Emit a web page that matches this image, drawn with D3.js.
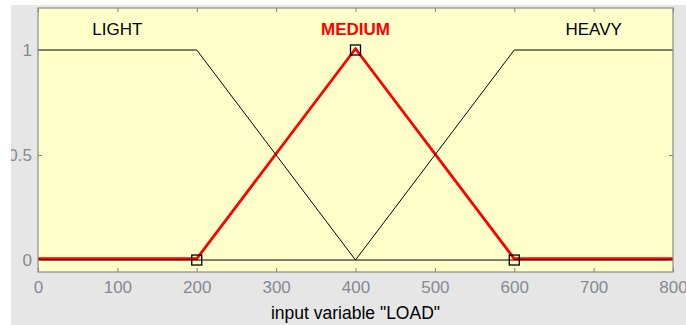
<!DOCTYPE html>
<html>
<head>
<meta charset="utf-8">
<script src="https://cdn.jsdelivr.net/npm/d3@7"></script>
<style>
body { margin: 0; background: #fff; }
svg { display: block; font-family: Arial, "Liberation Sans", sans-serif; }
</style>
</head>
<body>
<script>
// membership functions of input variable LOAD
var mfNames = ["LIGHT", "MEDIUM", "HEAVY"];
var lightX = [0, 200, 400, 800];
var lightY = [1, 1, 0, 0];
var mediumX = [0, 200, 400, 600, 800];
var mediumY = [0, 0, 1, 0, 0];
var heavyX = [0, 400, 600, 800];
var heavyY = [0, 0, 1, 1];
var markerX = [200, 400, 600];
var markerY = [0, 1, 0];
var labelX = [100, 400, 700];
var xTicks = [0, 100, 200, 300, 400, 500, 600, 700, 800];
var yTicks = [0, 0.5, 1];
var yTickLabels = ["0", "0.5", "1"];

var W = 686, H = 325;
var margin = {top: 8, right: 13, bottom: 53, left: 38},
    width = W - margin.left - margin.right,
    height = H - margin.top - margin.bottom;

var svg = d3.select("body").append("svg")
  .attr("width", W).attr("height", H);

// gray figure background
svg.append("rect").attr("x", 11).attr("y", 5).attr("width", W - 11).attr("height", H - 5)
  .attr("fill", "#e6e6e6");

var g = svg.append("g").attr("transform", "translate(" + margin.left + "," + margin.top + ")");

var x = d3.scaleLinear().domain([0, 800]).range([0, width]);
var y = d3.scaleLinear().domain([-0.057, 1.2]).range([height, 0]);

g.append("rect").attr("width", width).attr("height", height)
  .attr("fill", "#ffffc9");

var line = d3.line().x(function(d) { return x(d[0]); }).y(function(d) { return y(d[1]); });

function pts(xs, ys) { return xs.map(function(v, i) { return [v, ys[i]]; }); }

// red selected MF first, slightly above
g.append("path").datum(pts(mediumX, mediumY))
  .attr("d", line).attr("fill", "none")
  .attr("stroke", "#ff0000").attr("stroke-width", 2.8)
  .attr("transform", "translate(0,-1.3)");

g.append("path").datum(pts(lightX, lightY))
  .attr("d", line).attr("fill", "none").attr("stroke", "#000").attr("stroke-width", 1);
g.append("path").datum(pts(heavyX, heavyY))
  .attr("d", line).attr("fill", "none").attr("stroke", "#000").attr("stroke-width", 1);

g.selectAll(".mk").data(markerX).enter().append("rect")
  .attr("class", "mk")
  .attr("x", function(d) { return x(d) - 5; })
  .attr("y", function(d, i) { return y(markerY[i]) - 5; })
  .attr("width", 10).attr("height", 10)
  .attr("fill", "none").attr("stroke", "#000").attr("stroke-width", 1.3);

// mf labels
g.selectAll(".mf").data(mfNames).enter().append("text")
  .attr("x", function(d, i) { return x(labelX[i]); })
  .attr("y", 27)
  .attr("text-anchor", "middle")
  .attr("font-size", 17)
  .attr("font-weight", function(d) { return d === "MEDIUM" ? "bold" : "normal"; })
  .attr("fill", function(d) { return d === "MEDIUM" ? "#ff0000" : "#000"; })
  .text(function(d) { return d; });

// axes
var xAxisB = d3.axisBottom(x).tickValues(xTicks).tickSize(-4).tickPadding(9).tickFormat(d3.format("d"));
var xAxisT = d3.axisTop(x).tickValues(xTicks).tickSize(-4).tickFormat("");
var yAxisL = d3.axisLeft(y).tickValues(yTicks).tickSize(-4).tickPadding(6)
  .tickFormat(function(d, i) { return yTickLabels[i]; });
var yAxisR = d3.axisRight(y).tickValues(yTicks).tickSize(-4).tickFormat("");

function styleAxis(sel) {
  sel.select(".domain").remove();
  sel.selectAll("line").attr("stroke", "#808080");
  sel.selectAll("text").attr("fill", "#868a90").attr("font-size", 17)
    .attr("font-family", "Arial, 'Liberation Sans', sans-serif");
}

g.append("g").attr("transform", "translate(0," + height + ")").call(xAxisB).call(styleAxis);
g.append("g").call(xAxisT).call(styleAxis);
g.append("g").call(yAxisL).call(styleAxis);
g.append("g").attr("transform", "translate(" + width + ",0)").call(yAxisR).call(styleAxis);

g.append("rect").attr("width", width).attr("height", height)
  .attr("fill", "none").attr("stroke", "#8c8c8c").attr("stroke-width", 1.2);

// left white strip clips the 0.5 label like the original window
svg.append("rect").attr("x", 0).attr("y", 0).attr("width", 11).attr("height", H).attr("fill", "#fff");
svg.append("rect").attr("x", 0).attr("y", 0).attr("width", W).attr("height", 5).attr("fill", "#fff");

svg.append("text").attr("x", margin.left + width / 2).attr("y", 319)
  .attr("text-anchor", "middle").attr("font-size", 17.5).attr("fill", "#000")
  .text('input variable "LOAD"');
</script>
</body>
</html>
